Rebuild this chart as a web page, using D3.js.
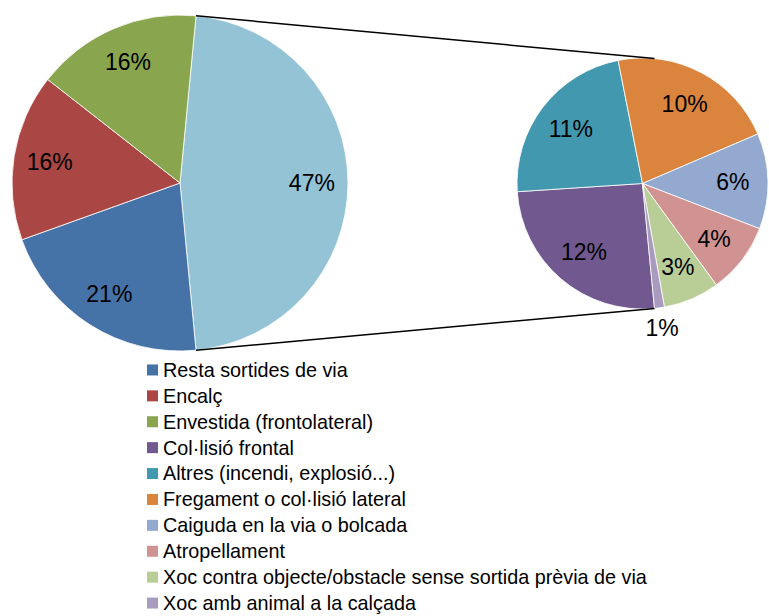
<!DOCTYPE html>
<html lang="ca">
<head>
    <meta charset="UTF-8">
    <title>Tipus d'accident</title>
    <script src="https://d3js.org/d3.v7.min.js" type="text/javascript"></script>
    <style>
        body { margin: 0; background: #fff; }
        text { font-family: "Liberation Sans", Arial, sans-serif; fill: #000; }
    </style>
</head>
<body>
<svg height="616" id="chart" width="769"></svg>
<script>
    // dades: pastís principal
    var mainCats = ["Resta sortides de via", "Encalç", "Envestida (frontolateral)"];
    var mainValues = [21.1, 16.1, 16.0];
    var mainColors = ["#4572A7", "#AA4643", "#89A54E"];
    var otherColor = "#93C3D4";

    // dades: pastís secundari
    var subCats = ["Col·lisió frontal", "Altres (incendi, explosió...)", "Fregament o col·lisió lateral",
        "Caiguda en la via o bolcada", "Atropellament",
        "Xoc contra objecte/obstacle sense sortida prèvia de via", "Xoc amb animal a la calçada"];
    var subValues = [12.0, 10.8, 10.2, 5.8, 4.3, 3.4, 0.6];
    var subColors = ["#71588F", "#4198AF", "#DB843D", "#93A9CF", "#D19392", "#B9CD96", "#A99BBD"];

    var svg = d3.select('#chart');
    var leftC = {x: 180, y: 183, r: 168};
    var rightC = {x: 642.5, y: 183.5, r: 125.5};

    var subSum = d3.sum(subValues);
    var total = d3.sum(mainValues) + subSum;
    var otherAngle = 2 * Math.PI * subSum / total;
    var a1 = Math.PI / 2 - otherAngle / 2; // vora superior
    var a2 = Math.PI / 2 + otherAngle / 2; // vora inferior
    var pct = v => Math.round(v / total * 100) + '%';

    var leftData = [{name: 'other', value: subSum, color: otherColor}].concat(
        mainCats.map((c, i) => ({name: c, value: mainValues[i], color: mainColors[i]})));
    var rightData = subCats.map((c, i) => ({name: c, value: subValues[i], color: subColors[i]}));

    var leftPie = d3.pie().sort(null).value(d => d.value).startAngle(a1).endAngle(a1 + 2 * Math.PI);
    var rightPie = d3.pie().sort(null).value(d => d.value).startAngle(a2).endAngle(a2 + 2 * Math.PI);

    function drawPie(data, pie, c, labelK) {
        var arc = d3.arc().innerRadius(0).outerRadius(c.r);
        var g = svg.append('g').attr('transform', 'translate(' + c.x + ',' + c.y + ')');
        var arcs = pie(data);
        g.selectAll('path').data(arcs).enter().append('path')
            .attr('d', arc)
            .attr('fill', d => d.data.color)
            .attr('stroke', '#fff')
            .attr('stroke-width', 0.8);
        g.selectAll('text').data(arcs).enter().append('text')
            .attr('text-anchor', 'middle')
            .attr('dy', '0.35em')
            .style('font-size', '23px')
            .attr('transform', function (d) {
                var a = (d.startAngle + d.endAngle) / 2;
                var small = d.data.value / total < 0.02; // etiqueta fora
                var rr = c.r * (small ? 1.16 : labelK);
                return 'translate(' + (rr * Math.sin(a)) + ',' + (-rr * Math.cos(a)) + ')';
            })
            .text(d => pct(d.data.value));
    }

    drawPie(leftData, leftPie, leftC, 0.785);
    drawPie(rightData, rightPie, rightC, 0.72);

    // línies de connexió
    [a1, a2].forEach(function (a) {
        svg.append('line')
            .attr('x1', leftC.x + leftC.r * Math.sin(a))
            .attr('y1', leftC.y - leftC.r * Math.cos(a))
            .attr('x2', rightC.x + rightC.r * Math.sin(a))
            .attr('y2', rightC.y - rightC.r * Math.cos(a))
            .attr('stroke', '#000')
            .attr('stroke-width', 1.5);
    });

    // llegenda
    var legendNames = mainCats.concat(subCats);
    var legendColors = mainColors.concat(subColors);
    var ly = d3.scaleBand().domain(d3.range(legendNames.length)).range([357, 616]);
    var lg = svg.append('g').selectAll('g').data(legendNames).enter().append('g')
        .attr('transform', (d, i) => 'translate(147,' + (ly(i) + ly.bandwidth() / 2) + ')');
    lg.append('rect').attr('x', 0).attr('y', -5.5).attr('width', 11).attr('height', 11)
        .attr('fill', (d, i) => legendColors[i]);
    lg.append('text').attr('x', 16).attr('dy', '0.35em').style('font-size', '19.8px').text(d => d);
</script>
</body>
</html>
